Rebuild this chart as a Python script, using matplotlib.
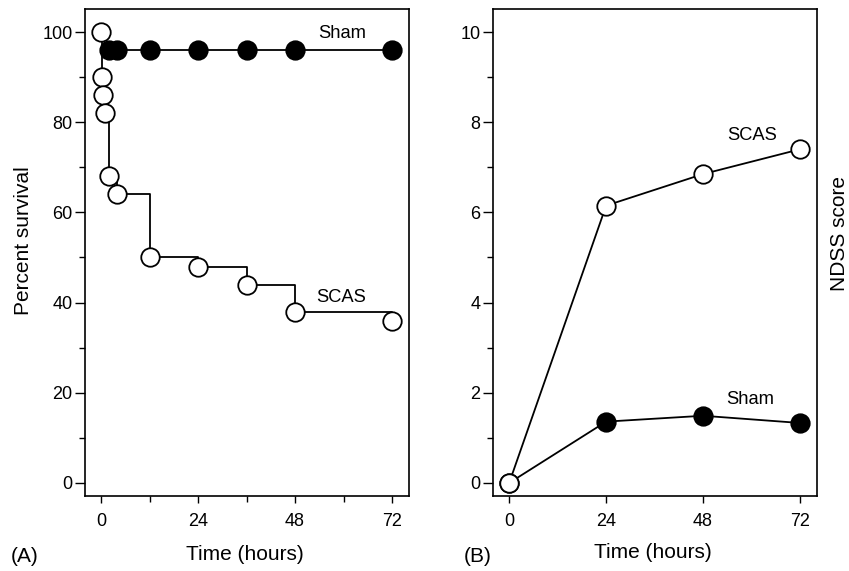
import matplotlib
matplotlib.use("Agg")
import matplotlib.pyplot as plt
from matplotlib.ticker import MultipleLocator

plt.rcParams['font.family'] = ['Liberation Sans', 'DejaVu Sans']

# Panel A: survival (Kaplan-Meier style)
scas_surv_t = [0, 0.25, 0.5, 1, 2, 4, 12, 24, 36, 48, 72]
scas_surv_v = [100, 90, 86, 82, 68, 64, 50, 48, 44, 38, 36]
sham_surv_t = [2, 4, 12, 24, 36, 48, 72]
sham_surv_v = [96, 96, 96, 96, 96, 96, 96]

# Panel B: NDSS score
ndss_t = [0, 24, 48, 72]
scas_ndss = [0, 6.15, 6.85, 7.4]
sham_ndss = [0, 1.36, 1.49, 1.33]

x_ticks = [0, 24, 48, 72]

fig = plt.figure(figsize=(8.49, 5.71), dpi=100)
axA = fig.add_axes([0.1001, 0.1313, 0.3816, 0.8529])
axB = fig.add_axes([0.5807, 0.1313, 0.3816, 0.8529])

ms = 13.3
lw = 1.3
mew = 1.3
tick_fs = 13
ann_fs = 13.2
lab_fs = 15

# Panel A
axA.step(scas_surv_t, scas_surv_v, where='post', color='black', lw=lw, zorder=2)
axA.plot(sham_surv_t, sham_surv_v, color='black', lw=lw, zorder=2)
axA.plot(sham_surv_t, sham_surv_v, 'o', ms=ms, mfc='black', mec='black', mew=mew, zorder=3)
axA.plot(scas_surv_t, scas_surv_v, 'o', ms=ms, mfc='white', mec='black', mew=mew, zorder=4)
axA.set_xlim(-4, 76.2)
axA.set_ylim(-2.9, 105.1)
axA.set_xticks(x_ticks)
axA.xaxis.set_minor_locator(MultipleLocator(12))
axA.set_yticks([0, 20, 40, 60, 80, 100])
axA.yaxis.set_minor_locator(MultipleLocator(10))
axA.text(59.8, 99.6, 'Sham', fontsize=ann_fs, ha='center', va='center')
axA.text(59.4, 41.2, 'SCAS', fontsize=ann_fs, ha='center', va='center')
axA.set_ylabel('Percent survival', fontsize=lab_fs, ha='center', va='center', rotation=90)
axA.yaxis.set_label_coords((23.5 - 85) / 324, (496 - 241) / 487)

# Panel B
axB.plot(ndss_t, sham_ndss, '-o', color='black', lw=lw, ms=ms, mfc='black', mec='black', mew=mew, zorder=3)
axB.plot(ndss_t, scas_ndss, '-o', color='black', lw=lw, ms=ms, mfc='white', mec='black', mew=mew, zorder=4)
axB.set_xlim(-4, 76.2)
axB.set_ylim(-0.29, 10.51)
axB.set_xticks(x_ticks)
axB.set_yticks([0, 2, 4, 6, 8, 10])
axB.yaxis.set_minor_locator(MultipleLocator(1))
axB.text(60.1, 7.7, 'SCAS', fontsize=ann_fs, ha='center', va='center')
axB.text(59.7, 1.84, 'Sham', fontsize=ann_fs, ha='center', va='center')
axB.yaxis.set_label_position('right')
axB.set_ylabel('NDSS score', fontsize=lab_fs, ha='center', va='center', rotation=90)
axB.yaxis.set_label_coords((840 - 493) / 324, (496 - 233) / 487)

for ax in (axA, axB):
    for s in ax.spines.values():
        s.set_linewidth(1.2)
    ax.tick_params(axis='both', which='major', labelsize=tick_fs, width=1.0, direction='out')
    ax.tick_params(axis='x', which='major', length=5, pad=7)
    ax.tick_params(axis='x', which='minor', length=4, width=1.0)
    ax.tick_params(axis='y', which='major', length=7, pad=2)
    ax.tick_params(axis='y', which='minor', length=4, width=1.0)

fig.text(245 / 849, 1 - 555 / 571, 'Time (hours)', fontsize=lab_fs, ha='center', va='center')
fig.text(653 / 849, 1 - 553 / 571, 'Time (hours)', fontsize=lab_fs, ha='center', va='center')
fig.text(25 / 849, 1 - 557 / 571, '(A)', fontsize=lab_fs, ha='center', va='center')
fig.text(478 / 849, 1 - 557 / 571, '(B)', fontsize=lab_fs, ha='center', va='center')

fig.savefig('out.png', dpi=100)
